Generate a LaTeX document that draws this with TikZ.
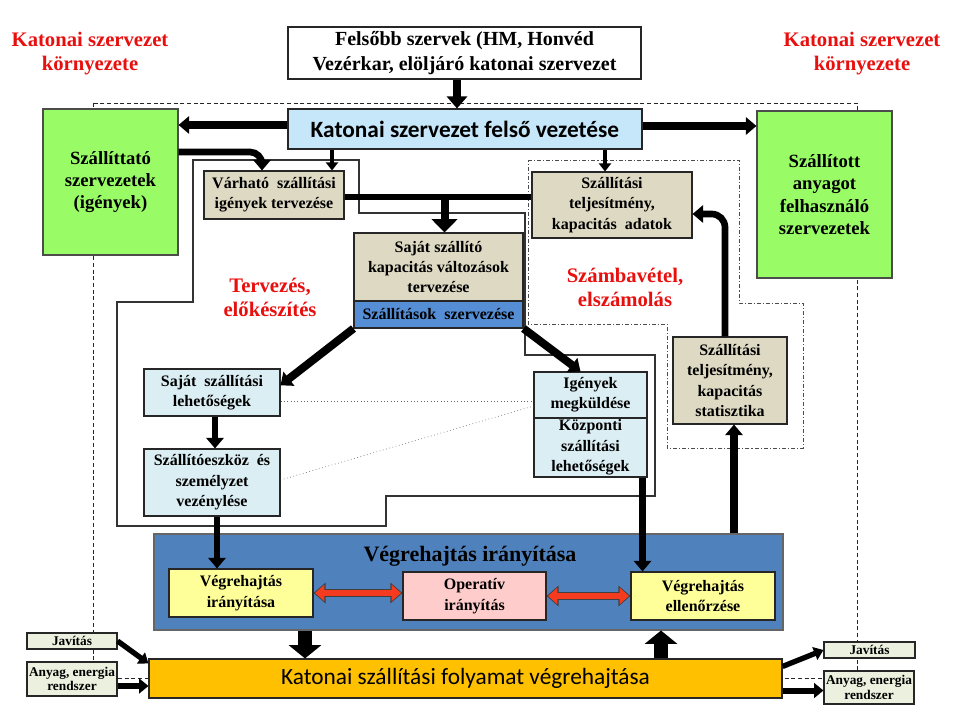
\documentclass[tikz,border=0pt]{standalone}
\usepackage{fontspec}
\setmainfont{Liberation Serif}
\newfontfamily\calibri{Carlito}
\usetikzlibrary{arrows.meta,calc}

\definecolor{tanbox}{RGB}{221,217,195}
\definecolor{skybox}{RGB}{219,238,244}
\definecolor{topbox}{RGB}{198,231,249}
\definecolor{greenbox}{RGB}{153,252,102}
\definecolor{panelblue}{RGB}{79,129,189}
\definecolor{orgblue}{RGB}{85,142,213}
\definecolor{lightyel}{RGB}{255,255,153}
\definecolor{pinkbox}{RGB}{255,204,204}
\definecolor{goldbox}{RGB}{255,192,0}
\definecolor{smallbox}{RGB}{235,241,222}
\definecolor{labelred}{RGB}{232,16,15}
\definecolor{arrowred}{RGB}{245,59,31}

\tikzset{every picture/.style={line width=0.75pt}}
\tikzset{
  sz/.style 2 args={minimum width=#1*0.75pt, minimum height=#2*0.75pt},
  box/.style={draw=black!85, line width=0.8pt, align=center, inner sep=1pt,
    font=\bfseries\fontsize{12}{15.3}\selectfont},
  redlabel/.style={text=labelred, align=center, font=\bfseries\fontsize{15.5}{18}\selectfont},
  envline/.style={draw=black!85, line width=0.6pt, dash pattern=on 3pt off 2pt},
  planline/.style={draw=black!80, line width=0.8pt},
  accline/.style={draw=black!70, line width=0.6pt, dash pattern=on 3pt off 1.5pt on 0.8pt off 1.5pt},
  fat/.style={line width=5pt, -{Triangle[width=13pt,length=8pt]}},
  thinarr/.style={line width=3pt, -{Triangle[width=9pt,length=6pt]}},
  bigarr/.style={line width=6pt, -{Triangle[width=19pt,length=10pt]}},
  blockarr/.style={line width=10.5pt, -{Triangle[width=24pt,length=10pt]}},
  redout/.style={line width=6.5pt, draw=black!75, {Triangle[width=15pt,length=9pt]}-{Triangle[width=15pt,length=9pt]}},
  redin/.style={line width=4.5pt, draw=arrowred, shorten <=1.1pt, shorten >=1.1pt,
    {Triangle[width=12pt,length=7pt]}-{Triangle[width=12pt,length=7pt]}},
  dotline/.style={draw=black!60, line width=0.5pt, dotted}
}

\begin{document}
\begin{tikzpicture}[x=0.75pt,y=0.75pt,yscale=-1,xscale=1]
            \useasboundingbox (0,0) rectangle (960,720);

            %Shape: Rectangle (environment)
            \draw [envline] (93,103) rectangle (857,678);
            %Shape: Polygon (planning)
            \draw [planline] (193,160) -- (359,160) -- (359,213) -- (525,213) -- (525,355) -- (655,355) -- (655,496) -- (386,496) -- (386,526) -- (117,526) -- (117,302) -- (193,302) -- cycle;
            %Shape: Polygon (accounting)
            \draw [accline] (528,160) -- (739,160) -- (739,303) -- (803,303) -- (803,448) -- (667,448) -- (667,324) -- (528,324) -- cycle;

            % Text Node
            \node [redlabel] (kornyL) at (90,54) {Katonai szervezet\\környezete};
            % Text Node
            \node [redlabel] (kornyR) at (862,54) {Katonai szervezet\\környezete};
            % Text Node
            \node [redlabel] (tervezes) at (270,297) {Tervezés,\\előkészítés};
            % Text Node
            \node [redlabel] (szambavetel) at (625,287) {Számbavétel,\\elszámolás};

            %Shape: Rectangle
            \node [box, fill=white, sz={353}{52}, font=\bfseries\fontsize{15}{18.8}\selectfont] (felsobb) at (464.5,53) {Felsőbb szervek (HM, Honvéd\\Vezérkar, elöljáró katonai szervezet};
            %Shape: Rectangle
            \node [box, fill=topbox, sz={354}{40}, font=\calibri\bfseries\fontsize{17.5}{20}\selectfont] (felso) at (465,129) {Katonai szervezet felső vezetése};
            %Shape: Rectangle
            \node [box, fill=greenbox, draw=black!70, sz={135}{146}, font=\bfseries\fontsize{14}{16.5}\selectfont] (szallittato) at (110.5,182) {Szállíttató\\szervezetek\\(igények)};
            %Shape: Rectangle
            \node [box, fill=greenbox, draw=black!70, sz={135}{167}, font=\bfseries\fontsize{14}{16.8}\selectfont] (felhasznalo) at (824.5,194.5) {Szállított\\anyagot\\felhasználó\\szervezetek};
            %Shape: Rectangle
            \node [box, fill=tanbox, sz={140}{48}] (varhato) at (274,195) {Várható\ \ szállítási\\igények tervezése};
            %Shape: Rectangle
            \node [box, fill=tanbox, sz={160}{66}] (adatok) at (612,205) {Szállítási\\teljesítmény,\\kapacitás\ \ adatok};
            %Shape: Rectangle
            \node [box, fill=tanbox, sz={169}{68}] (sajat) at (438.5,267) {Saját szállító\\kapacitás változások\\tervezése};
            %Shape: Rectangle
            \node [box, fill=orgblue, sz={169}{27}] (szervezes) at (438.5,314.5) {Szállítások\ \ szervezése};
            %Shape: Rectangle
            \node [box, fill=skybox, sz={136}{47}] (lehetoseg) at (212,392.5) {Saját\ \ szállítási\\lehetőségek};
            %Shape: Rectangle
            \node [box, fill=skybox, sz={136}{67}] (vezenyles) at (212,482.5) {Szállítóeszköz\ \ és\\személyzet\\vezénylése};
            %Shape: Rectangle
            \node [box, fill=skybox, sz={113}{46}] (igenyek) at (590.5,395) {Igények\\megküldése};
            %Shape: Rectangle
            \node [box, fill=skybox, sz={113}{59}] (kozponti) at (590.5,447.5) {Központi\\szállítási\\lehetőségek};
            %Shape: Rectangle
            \node [box, fill=tanbox, sz={114}{87}] (statisztika) at (730,380.5) {Szállítási\\teljesítmény,\\kapacitás\\statisztika};

            %Shape: Rectangle (execution panel)
            \node [box, fill=panelblue, draw=black!60, sz={629}{96}] (panel) at (468.5,582) {};
            % Text Node
            \node [font=\bfseries\fontsize{16.5}{19}\selectfont] (paneltitle) at (470,556) {Végrehajtás irányítása};
            %Shape: Rectangle
            \node [box, fill=lightyel, sz={144}{48}] (virany) at (241,593) {Végrehajtás\\irányítása};
            %Shape: Rectangle
            \node [box, fill=pinkbox, sz={143}{48}] (operativ) at (474.5,596) {Operatív\\irányítás};
            %Shape: Rectangle
            \node [box, fill=lightyel, sz={144}{48}] (ellenorzes) at (703,596) {Végrehajtás\\ellenőrzése};
            %Shape: Rectangle
            \node [box, fill=goldbox, sz={633}{39}, font=\calibri\fontsize{17.5}{20}\selectfont] (folyamat) at (465.5,678.5) {Katonai szállítási folyamat végrehajtása};

            %Shape: Rectangle
            \node [box, fill=smallbox, sz={90}{16}, inner sep=0pt, font=\bfseries\fontsize{10}{11}\selectfont] (javitasL) at (72,641) {Javítás};
            %Shape: Rectangle
            \node [box, fill=smallbox, sz={90}{34}, inner sep=0pt, font=\bfseries\fontsize{10}{11}\selectfont] (anyagL) at (72,679) {Anyag, energia\\rendszer};
            %Shape: Rectangle
            \node [box, fill=smallbox, sz={91}{16}, inner sep=0pt, font=\bfseries\fontsize{10}{11}\selectfont] (javitasR) at (869.5,650) {Javítás};
            %Shape: Rectangle
            \node [box, fill=smallbox, sz={90}{33}, inner sep=0pt, font=\bfseries\fontsize{10}{11}\selectfont] (anyagR) at (869,687.5) {Anyag, energia\\rendszer};

            %Straight Lines
            \draw [fat, line width=6pt, -{Triangle[width=15pt,length=9pt]}] ($(felsobb.south)+(-7.5,0)$) coordinate (a1) -- (a1 |- felso.north);
            %Straight Lines
            \draw [fat, line width=6pt] ($(felso.west)+(0,-4)$) coordinate (a2) -- (a2 -| szallittato.east);
            %Straight Lines
            \draw [fat, line width=6pt] ($(felso.east)+(0,-3)$) coordinate (a3) -- (a3 -| felhasznalo.west);
            %Curve Lines
            \draw [fat, rounded corners=9pt] ($(szallittato.east)+(0,-30)$) -| ($(varhato.north)+(-12,0)$);
            %Straight Lines
            \coordinate (a4) at ($(varhato.north)+(58,0)$);
            \draw [thinarr] (a4 |- felso.south) -- (a4);
            %Straight Lines
            \coordinate (a5) at ($(adatok.north)+(-7,0)$);
            \draw [thinarr] (a5 |- felso.south) -- (a5);
            %Straight Lines
            \draw [line width=5pt] ($(varhato.east)+(0,2)$) coordinate (a6) -- (a6 -| adatok.west);
            %Straight Lines
            \coordinate (a7) at ($(sajat.north)+(6,0)$);
            \draw [bigarr] (a7 |- a6) -- (a7);
            %Straight Lines
            \draw [fat, line width=6pt] (szervezes.south west) -- ($(lehetoseg.north east)!0.35!(lehetoseg.south east)$);
            %Straight Lines
            \draw [fat, line width=6pt] (szervezes.south east) -- ($(igenyek.north)+(-10,0)$);
            %Straight Lines
            \draw [fat] ($(lehetoseg.south)+(3,0)$) coordinate (a8) -- (a8 |- vezenyles.north);
            %Straight Lines
            \draw [fat] ($(vezenyles.south)+(5,0)$) coordinate (a9) -- (a9 |- virany.north);
            %Straight Lines
            \draw [fat] ($(kozponti.south east)+(-5,0)$) coordinate (a10) -- (a10 |- ellenorzes.north);
            %Curve Lines
            \draw [fat, rounded corners=10pt] ($(statisztika.north)+(-5,0)$) |- ($(adatok.east)+(0,9)$);
            %Straight Lines
            \coordinate (a11) at ($(statisztika.south)+(4,0)$);
            \draw [fat, line width=6pt] (a11 |- panel.north) -- (a11);
            %Dotted Lines
            \draw [dotline] ($(lehetoseg.east)+(0,8.5)$) coordinate (a12) -- (a12 -| igenyek.west);
            \draw [dotline] ($(vezenyles.east)+(0,-2.5)$) -- ($(igenyek.west)+(0,11)$);

            %Double Arrows
            \draw [redout] (virany.east) -- (virany.east -| operativ.west);
            \draw [redin] (virany.east) -- (virany.east -| operativ.west);
            \draw [redout] (operativ.east) -- (operativ.east -| ellenorzes.west);
            \draw [redin] (operativ.east) -- (operativ.east -| ellenorzes.west);

            %Block Arrows
            \coordinate (a13) at ($(panel.south)+(-163.5,0)$);
            \draw [blockarr] (a13) -- (a13 |- folyamat.north);
            \coordinate (a14) at ($(panel.south)+(192.5,0)$);
            \draw [blockarr] (a14 |- folyamat.north) -- (a14);

            %Straight Lines
            \draw [fat, line width=4pt, -{Triangle[width=10pt,length=7pt]}] (javitasL.east) -- ($(folyamat.north west)+(0,5)$);
            \draw [fat, line width=4.5pt, -{Triangle[width=11pt,length=7pt]}] ($(anyagL.east)+(0,7)$) coordinate (a15) -- (a15 -| folyamat.west);
            \draw [fat, line width=4pt, -{Triangle[width=10pt,length=7pt]}] ($(folyamat.north east)+(0,8)$) -- (javitasR.west);
            \draw [fat, line width=4.5pt, -{Triangle[width=11pt,length=7pt]}] ($(folyamat.east)+(0,12)$) coordinate (a16) -- (a16 -| anyagR.west);
        \end{tikzpicture}
\end{document}
